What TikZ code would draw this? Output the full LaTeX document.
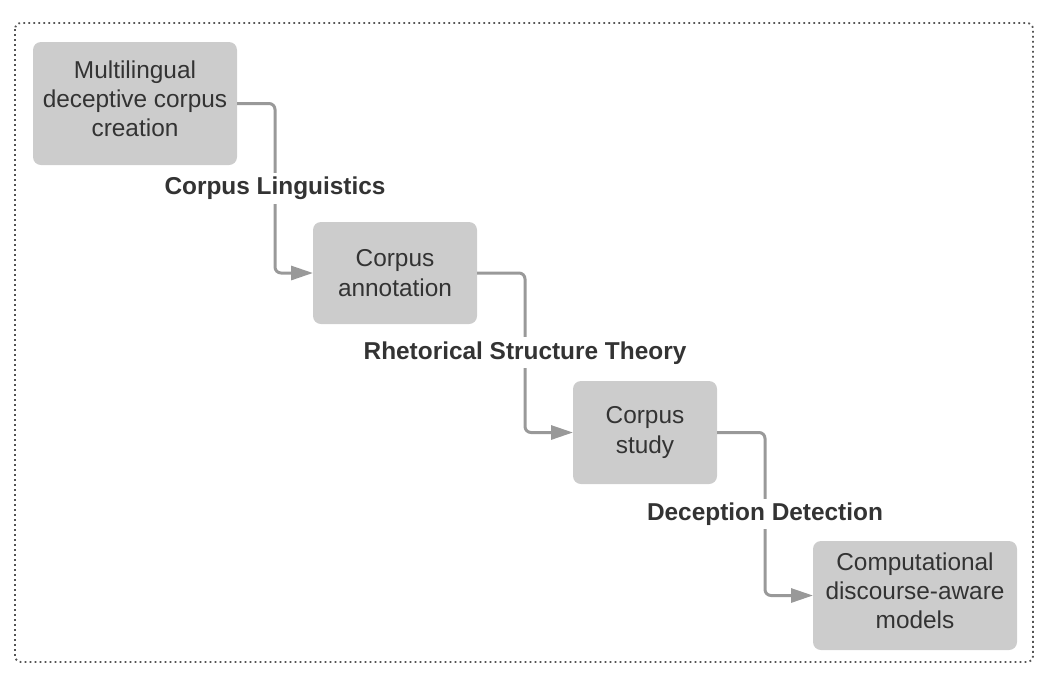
\documentclass[tikz,border=0pt]{standalone}
\usepackage{fontspec}
\setmainfont{Liberation Sans}
\usetikzlibrary{positioning,arrows.meta,calc}

\definecolor{boxgray}{HTML}{CCCCCC}
\definecolor{linkgray}{HTML}{999999}
\definecolor{inkgray}{HTML}{333333}
\definecolor{framegray}{HTML}{555555}

\tikzset{
  stage/.style={fill=boxgray, text=inkgray, rounded corners=4pt, align=center,
    inner sep=2pt, outer sep=0pt, font=\fontsize{12.2}{14.6}\selectfont},
  link/.style={draw=linkgray, line width=1.5pt, rounded corners=3pt,
    -{Triangle[length=11pt,width=7pt]}},
  field/.style={fill=white, text=inkgray, inner sep=2pt,
    font=\bfseries\fontsize{12.2}{14.6}\selectfont}
}

\begin{document}
\begin{tikzpicture}[x=0.5pt, y=-0.5pt]
  \useasboundingbox (0,0) rectangle (1050,676);
  \draw[framegray, line width=0.9pt, dash pattern=on 0.9pt off 1.6pt, rounded corners=3pt]
    (15,23) rectangle (1033,662);
  \node[stage, minimum width=102pt, minimum height=61.5pt, anchor=north west] (creation) at (33,42)
    {Multilingual\\deceptive corpus\\creation\\[-9.6pt]};
  \node[stage, minimum width=82pt, minimum height=51pt, below right=28.5pt and 38pt of creation] (annotation)
    {Corpus\\annotation};
  \node[stage, minimum width=72pt, minimum height=51.5pt, below right=28.5pt and 48pt of annotation] (study)
    {Corpus\\study};
  \node[stage, minimum width=102pt, minimum height=54.5pt, below right=28.5pt and 48pt of study] (models)
    {Computational\\discourse-aware\\models\\[-9.6pt]};
  \coordinate (k1) at ($(creation.east)!.5!(annotation.west)$);
  \coordinate (k2) at ($(annotation.east)!.5!(study.west)$);
  \coordinate (k3) at ($(study.east)!.5!(models.west)$);
  \draw[link] (creation.east) -| (k1) |- (annotation.west);
  \draw[link] (annotation.east) -| (k2) |- (study.west);
  \draw[link] (study.east) -| (k3) |- (models.west);
  \node[field] at (k1) {Corpus Linguistics};
  \node[field] at (k2) {Rhetorical Structure Theory};
  \node[field] at (k3) {Deception Detection};
\end{tikzpicture}
\end{document}
